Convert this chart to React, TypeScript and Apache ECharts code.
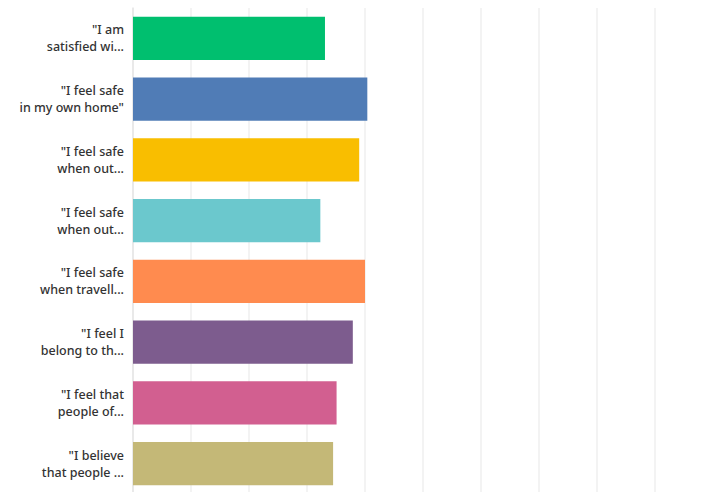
import React, { useEffect, useRef } from "react";
import * as echarts from "echarts";

const categories: string[] = [
  '"I am\nsatisfied wi...',
  '"I feel safe\nin my own home"',
  '"I feel safe\nwhen out...',
  '"I feel safe\nwhen out...',
  '"I feel safe\nwhen travell...',
  '"I feel I\nbelong to th...',
  '"I feel that\npeople of...',
  '"I believe\nthat people ...',
];

const values: number[] = [3.31, 4.04, 3.9, 3.23, 4.0, 3.79, 3.51, 3.45];

const colors: string[] = [
  "#00BF6F",
  "#507CB6",
  "#F9BE00",
  "#6BC8CD",
  "#FF8B4F",
  "#7D5C8E",
  "#D25F90",
  "#C4B877",
];

export default function App() {
  const ref = useRef<HTMLDivElement>(null);
  useEffect(() => {
    if (!ref.current) return;
    const chart = echarts.init(ref.current, undefined, { renderer: "svg" });
    chart.setOption({
      animation: false,
      backgroundColor: "#ffffff",
      grid: { left: 133, top: 8, width: 580, height: 486, containLabel: false },
      xAxis: {
        type: "value",
        min: 0,
        max: 10,
        interval: 1,
        axisLabel: { show: false },
        axisLine: { show: false },
        axisTick: { show: false },
        splitLine: { show: true, lineStyle: { color: "#efefef", width: 1.5 } },
      },
      yAxis: {
        type: "category",
        inverse: true,
        data: categories,
        axisLine: { show: true, lineStyle: { color: "#e6e6e6", width: 1.5 } },
        axisTick: { show: false },
        axisLabel: {
          margin: 9,
          color: "#333333",
          fontFamily: "Noto Sans",
          fontSize: 12.5,
          fontWeight: 500,
          lineHeight: 17,
          align: "right",
        },
      },
      series: [
        {
          type: "bar",
          data: values.map((v, i) => ({ value: v, itemStyle: { color: colors[i] } })),
          barCategoryGap: "29%",
        },
      ],
    });
    return () => chart.dispose();
  }, []);
  return (
    <div style={{ position: "fixed", left: 0, top: 0, width: 708, height: 492, overflow: "hidden", background: "#fff" }}>
      <div ref={ref} style={{ width: 720, height: 500 }} />
    </div>
  );
}
